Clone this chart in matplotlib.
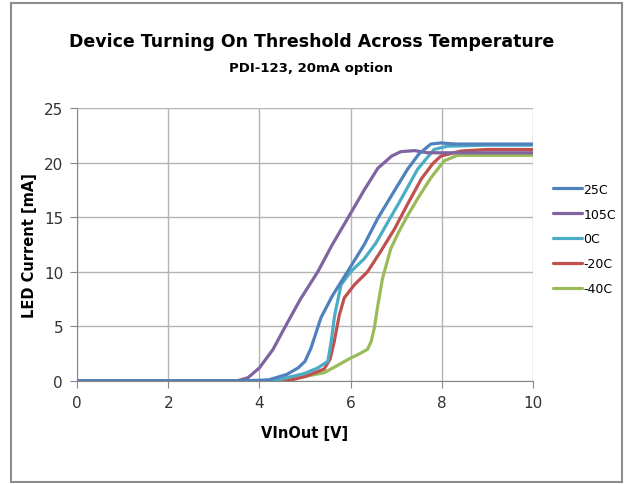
#import libraries
import matplotlib
matplotlib.use('Agg')
import matplotlib.pyplot as plt
from matplotlib.patches import Rectangle

plt.rcParams['font.family'] = ['DejaVu Sans']

#series (VInOut [V] vs LED current [mA])
x_25 = [0, 3.5, 4.2, 4.6, 4.85, 5.0, 5.13, 5.35, 5.6, 5.93, 6.3, 6.59, 6.9, 7.25, 7.5, 7.76, 7.98, 8.3, 9, 10]
y_25 = [0, 0, 0.1, 0.6, 1.2, 1.8, 3.0, 5.8, 7.8, 10.0, 12.5, 14.85, 17.0, 19.4, 20.8, 21.7, 21.8, 21.7, 21.7, 21.7]

x_105 = [0, 3.5, 3.75, 4.0, 4.3, 4.55, 4.9, 5.28, 5.6, 5.93, 6.3, 6.6, 6.74, 6.9, 7.1, 7.4, 7.69, 8, 9, 10]
y_105 = [0, 0, 0.3, 1.2, 2.9, 4.85, 7.5, 10.0, 12.5, 14.85, 17.5, 19.5, 20.0, 20.6, 21.0, 21.1, 20.9, 20.9, 20.9, 20.9]

x_0 = [0, 4.0, 4.5, 5.0, 5.28, 5.5, 5.57, 5.65, 5.79, 6.0, 6.3, 6.55, 6.81, 7.1, 7.47, 7.83, 8.12, 9, 10]
y_0 = [0, 0, 0.2, 0.7, 1.2, 1.8, 3.5, 6.0, 8.8, 10.0, 11.2, 12.6, 14.5, 16.6, 19.4, 21.2, 21.5, 21.6, 21.6]

x_m20 = [0, 4.0, 4.5, 5.0, 5.42, 5.55, 5.64, 5.75, 5.86, 6.08, 6.37, 6.65, 6.96, 7.25, 7.55, 7.8, 7.98, 8.42, 9, 10]
y_m20 = [0, 0, -0.1, 0.4, 1.1, 2.0, 3.6, 6.0, 7.6, 8.8, 10.0, 11.8, 13.9, 16.2, 18.5, 19.9, 20.6, 21.06, 21.2, 21.2]

x_m40 = [0, 3.5, 4.3, 4.77, 5.1, 5.42, 5.7, 6.0, 6.2, 6.37, 6.45, 6.52, 6.6, 6.7, 6.88, 7.05, 7.25, 7.5, 7.76, 8.05, 8.34, 9, 10]
y_m40 = [0, 0, 0.05, 0.3, 0.5, 0.76, 1.4, 2.1, 2.5, 2.9, 3.6, 4.85, 7.0, 9.4, 12.1, 13.6, 15.15, 16.9, 18.6, 20.15, 20.67, 20.67, 20.67]

labels = ['25C', '105C', '0C', '-20C', '-40C']
colors = ['#4F81BD', '#8064A2', '#4BACC6', '#C0504D', '#9BBB59']
xs = [x_25, x_105, x_0, x_m20, x_m40]
ys = [y_25, y_105, y_0, y_m20, y_m40]

fig = plt.figure(figsize=(6.27, 4.85), dpi=100)
ax = fig.add_axes([77/627, 1 - 382/485, 456/627, 273/485])

#draw in reverse so 25C sits on top like the original
for x, y, c, lab in list(zip(xs, ys, colors, labels))[::-1]:
    ax.plot(x, y, color=c, lw=2.3, label=lab, solid_joinstyle='round', solid_capstyle='round')

ax.set_xlim(0, 10)
ax.set_ylim(0, 25)
ax.set_xticks(range(0, 11, 2))
ax.set_yticks(range(0, 26, 5))
ax.grid(True, color='#B4B4B4', lw=1)
ax.set_axisbelow(True)
for s in ['top', 'right']:
    ax.spines[s].set_visible(False)
for s in ['left', 'bottom']:
    ax.spines[s].set_color('#868686')
ax.tick_params(colors='#868686', length=5, labelcolor='#333333', labelsize=11, pad=5)

ax.set_xlabel('VInOut [V]', fontweight='bold', fontsize=10.5, labelpad=11)
ax.set_ylabel('LED Current [mA]', fontweight='bold', fontsize=10.5, labelpad=5)

cx = (77 + 533) / 2 / 627 + 0.01
fig.text(cx, 1 - 42/485, 'Device Turning On Threshold Across Temperature',
         ha='center', va='center', fontweight='bold', fontsize=12.5)
fig.text(cx, 1 - 69/485, 'PDI-123, 20mA option',
         ha='center', va='center', fontweight='bold', fontsize=9.5)

#legend in original order
handles, labs = ax.get_legend_handles_labels()
order = [labs.index(l) for l in labels]
fig.legend([handles[i] for i in order], labels, loc='center left', bbox_to_anchor=(542/627, 1 - 240/485),
           frameon=False, prop={'size': 9}, handlelength=2.3, handletextpad=0.1,
           labelspacing=0.95)

fig.patches.append(Rectangle((11/627, 2/485), 611/627, 479/485, transform=fig.transFigure,
                             fill=False, edgecolor='#8C8C8C', lw=1.5))

fig.savefig('out.png', dpi=100)
